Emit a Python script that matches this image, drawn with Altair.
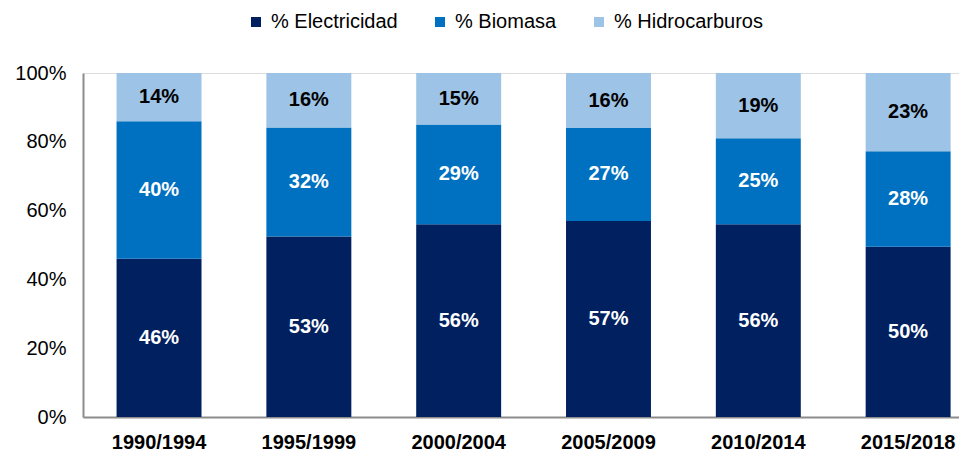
import altair as alt
import pandas as pd

periods = ["1990/1994", "1995/1999", "2000/2004", "2005/2009", "2010/2014", "2015/2018"]
series = ["% Electricidad", "% Biomasa", "% Hidrocarburos"]
electricidad = [46, 53, 56, 57, 56, 50]
biomasa = [40, 32, 29, 27, 25, 28]
hidrocarburos = [14, 16, 15, 16, 19, 23]
colors = ["#002060", "#0070C0", "#9DC3E6"]
label_colors = ["white", "white", "black"]

rows = []
for i, p in enumerate(periods):
    for j, (s, vals) in enumerate(zip(series, [electricidad, biomasa, hidrocarburos])):
        rows.append({"periodo": p, "serie": s, "valor": vals[i], "ord": j,
                     "lbl": f"{vals[i]}%", "lc": label_colors[j]})
df = pd.DataFrame(rows)

FONT = "Liberation Sans"

base = alt.Chart(df).transform_stack(
    stack="valor", groupby=["periodo"], as_=["y0", "y1"],
    offset="normalize", sort=[alt.SortField("ord", order="ascending")]
).transform_calculate(mid="(datum.y0 + datum.y1) / 2")

xenc = alt.X("periodo:N", sort=periods, title=None,
             scale=alt.Scale(paddingInner=0.433, paddingOuter=0.14, align=0.8),
             axis=alt.Axis(labelAngle=0, labelFont=FONT, labelFontSize=20,
                           labelFontWeight="bold", labelColor="black",
                           labelPadding=15, ticks=False, domainColor="#8c8c8c",
                           domainWidth=2))

bars = base.mark_bar().encode(
    x=xenc,
    y=alt.Y("y0:Q", title=None, scale=alt.Scale(domain=[0, 1], nice=False),
            axis=alt.Axis(format=".0%", values=[0, 0.2, 0.4, 0.6, 0.8, 1.0],
                          labelFont=FONT, labelFontSize=20, labelColor="black",
                          labelPadding=17, ticks=False, grid=False,
                          domainColor="#8c8c8c", domainWidth=2)),
    y2="y1:Q",
    color=alt.Color("serie:N", sort=series,
                    scale=alt.Scale(domain=series, range=colors),
                    legend=alt.Legend(title=None, orient="none", direction="horizontal",
                                      legendX=163, legendY=-61, gridAlign="none",
                                      symbolType="square", symbolSize=100,
                                      symbolStrokeWidth=0, labelFont=FONT,
                                      labelFontSize=20, labelColor="black",
                                      columnPadding=32, symbolOffset=0, labelOffset=5)),
)

text = base.mark_text(font=FONT, fontSize=20, fontWeight="bold").encode(
    x=alt.X("periodo:N", sort=periods),
    y=alt.Y("mid:Q"),
    text="lbl:N",
    color=alt.Color("lc:N", scale=None, legend=None),
)

chart = (bars + text).properties(
    width=876, height=344,
    autosize=alt.AutoSizeParams(type="none"),
    padding={"left": 75, "top": 65, "right": 0, "bottom": 36},
).configure_view(stroke=None).configure(background="white")

chart.save("out.html", embed_options={"renderer": "svg", "actions": False})
